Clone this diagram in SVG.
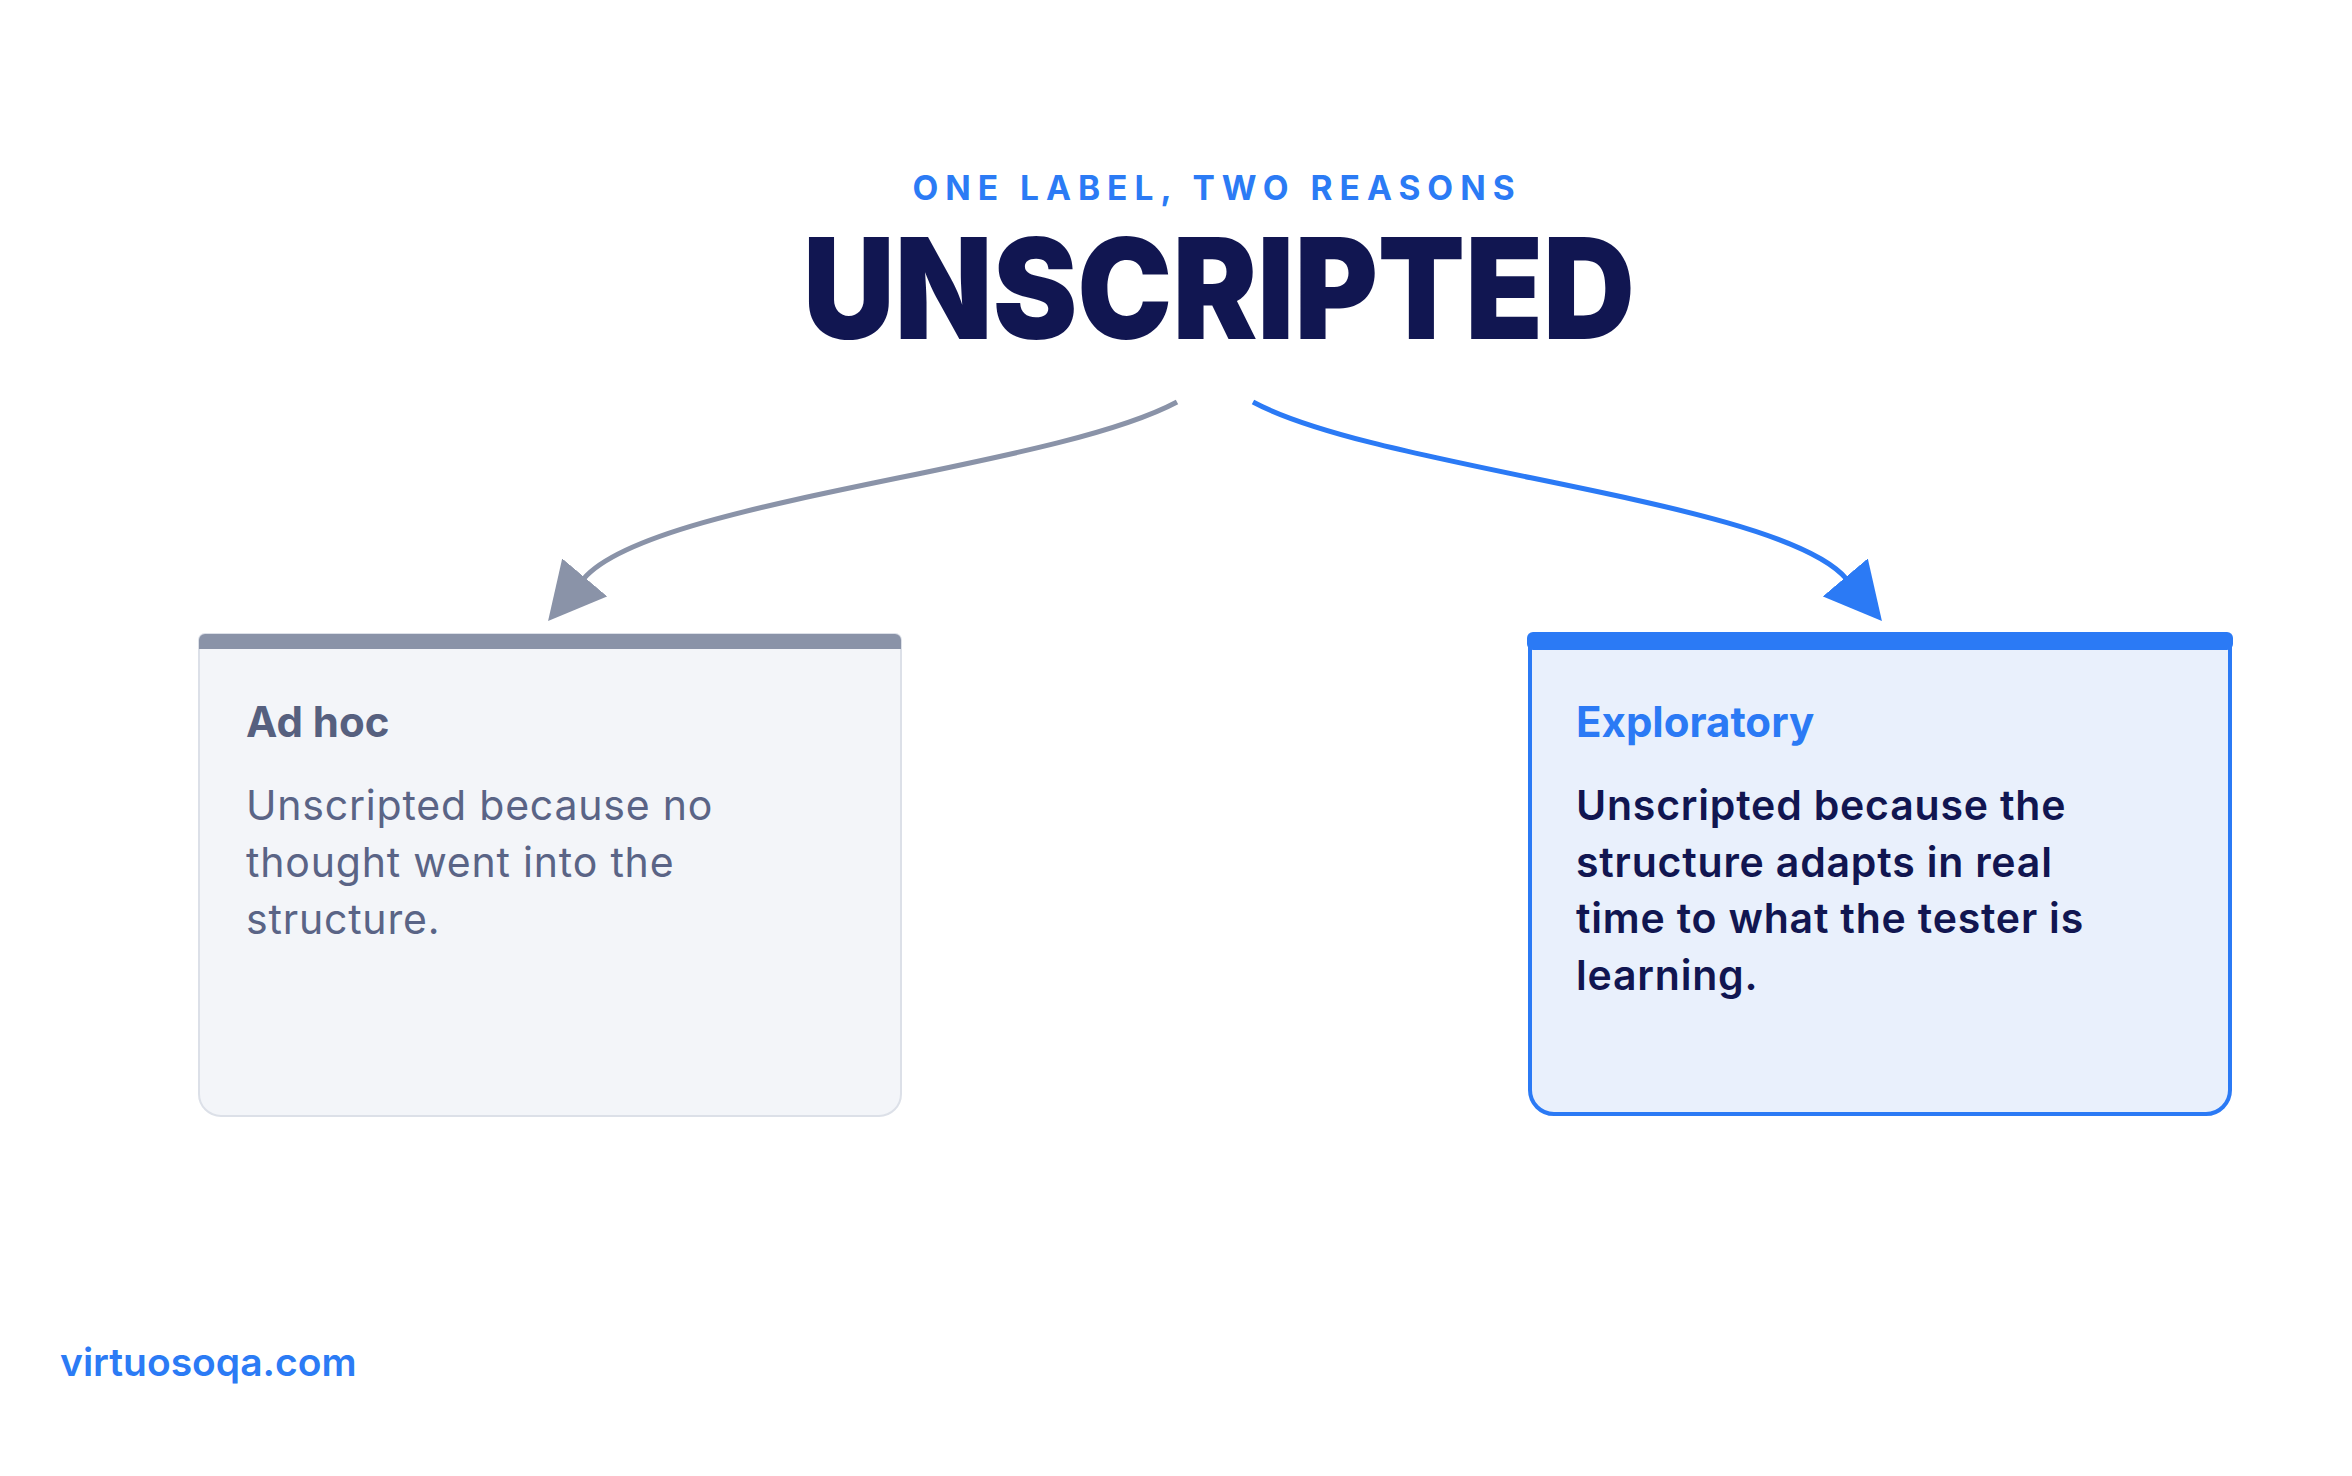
<svg xmlns="http://www.w3.org/2000/svg" width="2352" height="1476" viewBox="0 0 2352 1476">
  <style>
    .sub { font-family: Inter, "Liberation Sans", sans-serif; font-weight: 700; font-size: 33.5px; letter-spacing: 7px; fill: #2B7BF5; }
    .title { font-family: Inter, "Liberation Sans", sans-serif; font-weight: 900; font-size: 140px; fill: #111651; }
    .head { font-family: Inter, "Liberation Sans", sans-serif; font-weight: 700; font-size: 42px; }
    .body { font-family: Inter, "Liberation Sans", sans-serif; font-size: 41px; letter-spacing: 0.8px; }
    .foot { font-family: Inter, "Liberation Sans", sans-serif; font-weight: 600; font-size: 39px; fill: #2B7BF5; }
    .conn { fill: none; stroke-width: 5; }
  </style>
  <defs>
    <marker id="arrGray" viewBox="0 0 57 59" refX="2" refY="29.5" markerWidth="57" markerHeight="59" markerUnits="userSpaceOnUse" orient="auto">
      <path d="M0,0 L57,29.5 L0,59 Z" fill="#8A93A8"/>
    </marker>
    <marker id="arrBlue" viewBox="0 0 57 59" refX="2" refY="29.5" markerWidth="57" markerHeight="59" markerUnits="userSpaceOnUse" orient="auto">
      <path d="M0,0 L57,29.5 L0,59 Z" fill="#2B7AF5"/>
    </marker>
  </defs>
  <rect width="2352" height="1476" fill="#FFFFFF"/>

  <g id="header">
    <text class="sub" x="1217" y="200" text-anchor="middle">ONE LABEL, TWO REASONS</text>
    <text class="title" x="1219" y="339" text-anchor="middle" textLength="832" lengthAdjust="spacingAndGlyphs">UNSCRIPTED</text>
  </g>

  <g id="connectors">
    <path class="conn" stroke="#8A93A8" d="M 1177 402 C 1050 470, 650 500, 583.5 579" marker-end="url(#arrGray)"/>
    <path class="conn" stroke="#2B7AF5" d="M 1253 402 C 1380 470, 1780 500, 1846.5 579" marker-end="url(#arrBlue)"/>
  </g>

  <g id="node-adhoc">
    <path d="M 205 634 H 895 A 6 6 0 0 1 901 640 V 1094 A 22 22 0 0 1 879 1116 H 221 A 22 22 0 0 1 199 1094 V 640 A 6 6 0 0 1 205 634 Z" fill="#F3F5F9" stroke="#DCE0E8" stroke-width="2"/>
    <path d="M 205 634 H 895 A 6 6 0 0 1 901 640 V 649 H 199 V 640 A 6 6 0 0 1 205 634 Z" fill="#8A93A8"/>
    <text class="head" x="246" y="737" fill="#56607F">Ad hoc</text>
    <text class="body" fill="#5A6486">
      <tspan x="246" y="820">Unscripted because no</tspan>
      <tspan x="246" y="877">thought went into the</tspan>
      <tspan x="246" y="934">structure.</tspan>
    </text>
  </g>

  <g id="node-exploratory">
    <path d="M 1538 634 H 2222 A 8 8 0 0 1 2230 642 V 1090 A 24 24 0 0 1 2206 1114 H 1554 A 24 24 0 0 1 1530 1090 V 642 A 8 8 0 0 1 1538 634 Z" fill="#E9F0FC" stroke="#2B7AF5" stroke-width="4"/>
    <rect x="1527" y="632" width="706" height="18" rx="6" fill="#2B7AF5"/>
    <text class="head" x="1576" y="737" fill="#2B7AF5">Exploratory</text>
    <text class="body" fill="#111651" font-weight="600">
      <tspan x="1576" y="820">Unscripted because the</tspan>
      <tspan x="1576" y="877">structure adapts in real</tspan>
      <tspan x="1576" y="933">time to what the tester is</tspan>
      <tspan x="1576" y="990">learning.</tspan>
    </text>
  </g>

  <g id="footer">
    <text class="foot" x="60" y="1376">virtuosoqa.com</text>
  </g>
</svg>
